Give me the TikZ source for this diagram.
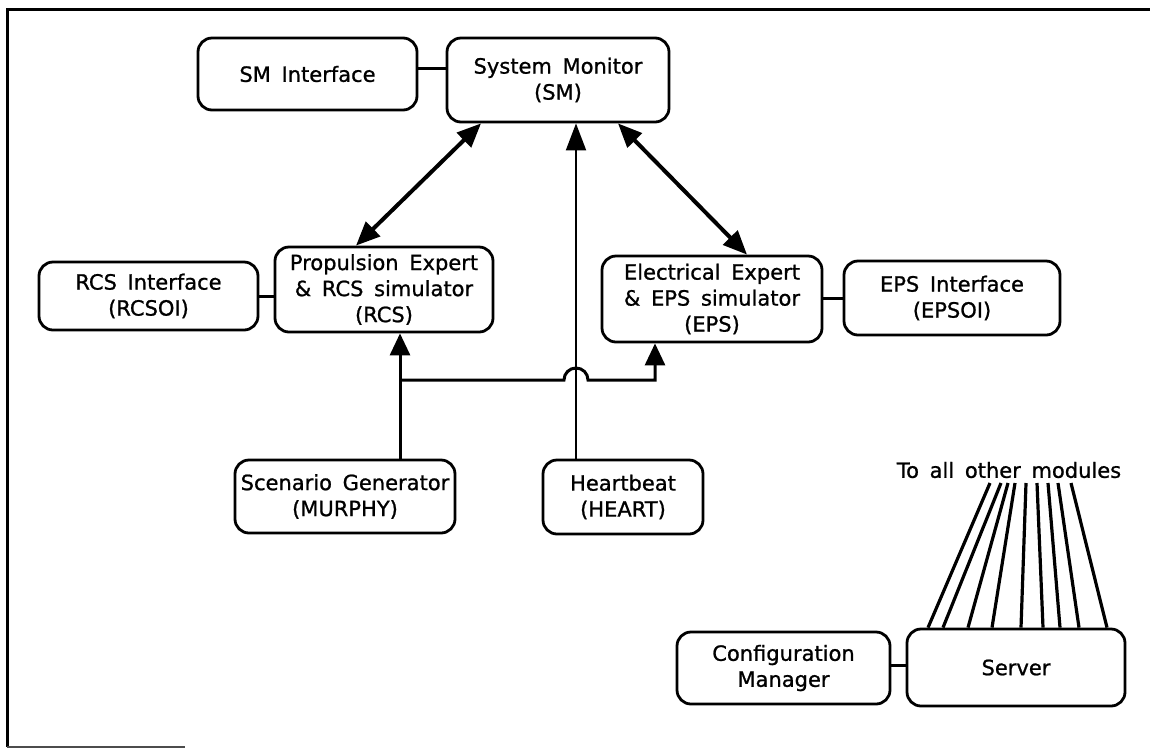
\documentclass[tikz,border=0pt]{standalone}
\usepackage{fontspec}
\setmainfont{DejaVu Sans}[WordSpace=1.6, FakeBold=1]
\usetikzlibrary{arrows.meta}

\newcommand{\boxfont}{\fontsize{21pt}{26pt}\selectfont}

\tikzset{
  module/.style={draw, line width=2.8pt, rounded corners=14pt, align=center,
    inner sep=0pt, font=\boxfont},
  link/.style={line width=3pt},
  duplex/.style={line width=4pt, {Triangle[length=24pt,width=20pt]}-{Triangle[length=24pt,width=20pt]}},
  feed/.style={line width=3pt, -{Triangle[length=22pt,width=20pt]}},
  beat/.style={line width=2pt, -{Triangle[length=27pt,width=20pt]}},
  fan/.style={line width=3.2pt}
}

\begin{document}
\begin{tikzpicture}[x=1pt, y=-1pt]
  \useasboundingbox (0,0) rectangle (1150,748);

  % page frame
  \draw[line width=3pt] (1150,9) -- (7,9) -- (7,747);
  \draw[line width=1.6pt, black!70] (7,747) -- (185,747);

  % modules
  \node[module, minimum width=219pt, minimum height=72pt] (smi)  at (307.5,74)  {SM Interface};
  \node[module, minimum width=222pt, minimum height=84pt] (sm)   at (558,80)    {System Monitor\\(SM)};
  \node[module, minimum width=219pt, minimum height=68pt] (rcsi) at (148.5,296) {RCS Interface\\(RCSOI)};
  \node[module, minimum width=218pt, minimum height=85pt] (rcs)  at (384,289.5) {Propulsion Expert\\\& RCS simulator\\(RCS)};
  \node[module, minimum width=220pt, minimum height=86pt] (eps)  at (712,299)   {Electrical Expert\\\& EPS simulator\\(EPS)};
  \node[module, minimum width=216pt, minimum height=74pt] (epsi) at (952,298)   {EPS Interface\\(EPSOI)};
  \node[module, minimum width=220pt, minimum height=73pt] (scen) at (345,496.5) {Scenario Generator\\(MURPHY)};
  \node[module, minimum width=160pt, minimum height=74pt] (hb)   at (623,497)   {Heartbeat\\(HEART)};
  \node[module, minimum width=213pt, minimum height=72pt] (cm)   at (783.5,668) {Configuration\\Manager};
  \node[module, minimum width=218pt, minimum height=77pt] (srv)  at (1016,667.5) {Server};
  \node[font=\boxfont, inner sep=0pt] (all) at (1009,470) {To all other modules};

  % interface links
  \draw[link] (smi.east |- 0,68) -- (sm.west |- 0,68);
  \draw[link] (rcsi.east) -- (rcs.west |- rcsi.east);
  \draw[link] (eps.east |- epsi.west) -- (epsi.west);
  \draw[link] (cm.east |- 0,665) -- (srv.west |- 0,665);

  % system monitor <-> experts
  \draw[duplex] (sm.south -| 481,0) -- (rcs.north -| 356,0);
  \draw[duplex] (sm.south -| 618,0) -- (eps.north -| 747,0);

  % heartbeat
  \coordinate (hbx) at (576,380);
  \draw[beat] (hb.north -| hbx) -- (sm.south -| hbx);

  % scenario feed to both experts, hopping over the heartbeat line
  \coordinate (split) at (400,380);
  \coordinate (epsin) at (655,380);
  \draw[feed] (scen.north -| split) -- (rcs.south -| split);
  \draw[feed, rounded corners=0pt] (split) -- ([xshift=-12pt]hbx)
     arc[start angle=180, end angle=0, radius=12pt] -- (epsin) -- (eps.south -| epsin);

  % server fan-out
  \foreach \b/\t in {928/990, 943/1001, 968/1008, 992/1015, 1021/1026,
                     1043/1037, 1060/1048, 1079/1058, 1107/1071}
    \draw[fan] (srv.north -| \b,0) -- (\t,483);
\end{tikzpicture}
\end{document}
